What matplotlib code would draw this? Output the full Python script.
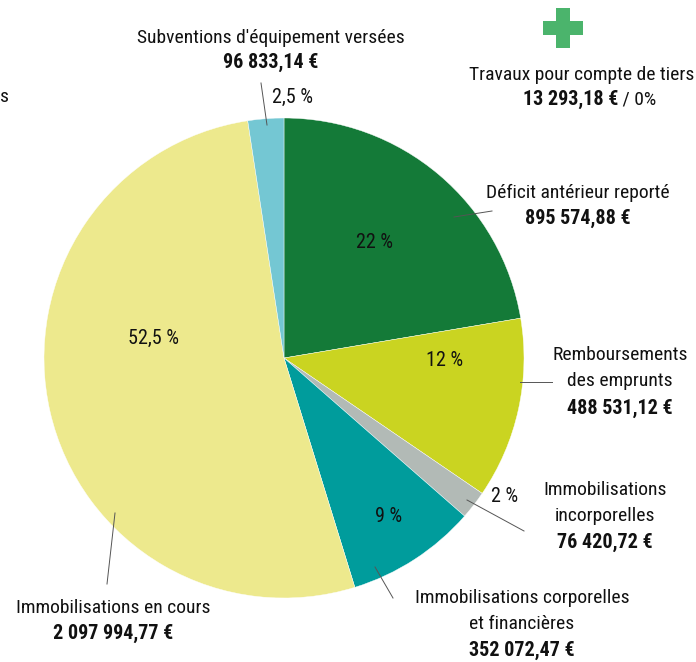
import matplotlib
matplotlib.use("Agg")
import matplotlib.pyplot as plt
from matplotlib import font_manager

# --- data ---
categories = ["Déficit antérieur reporté",
              "Remboursements\ndes emprunts",
              "Immobilisations\nincorporelles",
              "Immobilisations corporelles\net financières",
              "Immobilisations en cours",
              "Subventions d'équipement versées"]
amounts = [895574.88, 488531.12, 76420.72, 352072.47, 2097994.77, 96833.14]
amount_labels = ["895 574,88 €", "488 531,12 €", "76 420,72 €",
                 "352 072,47 €", "2 097 994,77 €", "96 833,14 €"]
pct_labels = ["22 %", "12 %", "2 %", "9 %", "52,5 %", "2,5 %"]
colors = ["#147a38", "#cad421", "#b2bab6", "#009c9c", "#ede98d", "#74c7d3"]

extra_name = "Travaux pour compte de tiers"
extra_amount = "13 293,18 €"
extra_pct = " / 0%"


def pick_font(names):
    for n in names:
        try:
            font_manager.findfont(font_manager.FontProperties(family=n),
                                  fallback_to_default=False)
            return n
        except Exception:
            pass
    return "DejaVu Sans"


FONT = pick_font(["Liberation Sans Narrow", "Roboto Condensed", "DejaVu Sans"])
plt.rcParams["font.family"] = [FONT, "DejaVu Sans"]

W, H = 696, 662


def Y(py):
    # pixel row (from top) -> data y
    return H - py


fig = plt.figure(figsize=(W / 100, H / 100), dpi=100)
ax = fig.add_axes([0, 0, 1, 1])

ax.pie(amounts, colors=colors, startangle=90, counterclock=False,
       center=(284, Y(358)), radius=240, frame=True,
       wedgeprops=dict(linewidth=0.3, edgecolor="white"))
ax.set_xlim(0, W)
ax.set_ylim(0, H)
ax.axis("off")

# percent labels (layout, pixel positions)
pct_pos = [(374, 242), (445, 360), (505, 496), (389, 517), (153, 338), (293, 97)]
for txt, (px, py) in zip(pct_labels, pct_pos):
    ax.text(px, Y(py), txt, ha="center", va="center", fontsize=14.5, color="#111111")

# category labels: (center x, y of first line, line step)
lab_pos = [(578, 193, 25), (620, 355, 26.5), (605, 490, 26),
           (522, 598, 26), (113, 608, 25), (271, 38, 24)]
for name, amt, (px, py, step) in zip(categories, amount_labels, lab_pos):
    lines = name.split("\n")
    for i, ln in enumerate(lines):
        ax.text(px, Y(py + i * step), ln, ha="center", va="center",
                fontsize=14, color="#111111")
    ax.text(px, Y(py + len(lines) * step), amt, ha="center", va="center",
            fontsize=14.5, fontweight="bold", color="#111111")

# leader lines
leaders = [((454, 217), (492, 211)),
           ((520, 382), (552, 382)),
           ((467, 500), (524, 531)),
           ((375, 567), (393, 598)),
           ((115, 513), (107, 584)),
           ((267, 125), (261, 83))]
for (x0, y0), (x1, y1) in leaders:
    ax.plot([x0, x1], [Y(y0), Y(y1)], color="#555555", lw=0.7)

# item outside the pie
ax.scatter([563], [Y(28)], marker="P", s=800, color="#4bb46c", linewidths=0)
ax.text(582, Y(75), extra_name, ha="center", va="center", fontsize=14, color="#111111")
t = ax.text(618, Y(99), extra_amount, ha="right", va="center", fontsize=14.5,
            fontweight="bold", color="#111111")
ax.annotate(extra_pct, xy=(1, 0), xycoords=t, va="bottom", ha="left",
            fontsize=14, color="#111111")

# label clipped by the left border in the original
ax.text(0, Y(97), "s", ha="left", va="center", fontsize=14, color="#111111")

fig.savefig("out.png", dpi=100)
